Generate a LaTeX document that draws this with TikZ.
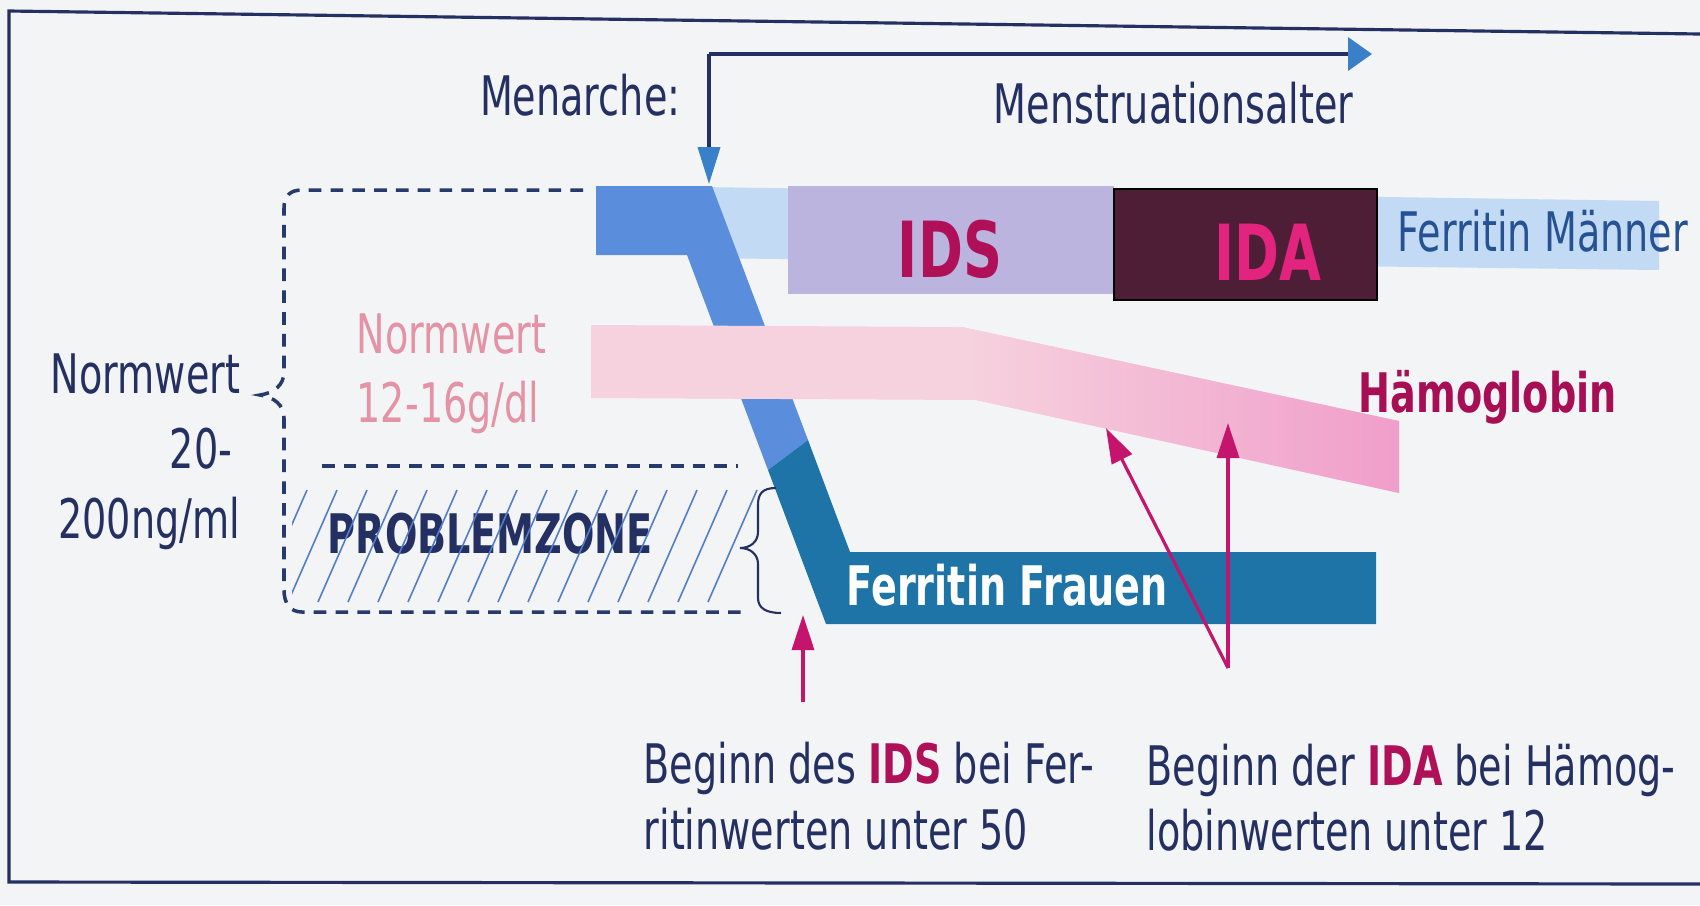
\documentclass[tikz,border=0pt]{standalone}
\usepackage{fontspec}
\setmainfont{DejaVu Sans}[FakeStretch=0.7]
\usetikzlibrary{arrows.meta}

\definecolor{bgcol}{RGB}{243,244,246}
\definecolor{navy}{RGB}{36,48,98}
\definecolor{dashcol}{RGB}{38,58,108}
\definecolor{fmtext}{RGB}{38,82,148}
\definecolor{lightblue}{RGB}{194,218,243}
\definecolor{midblue}{RGB}{90,142,220}
\definecolor{ferblue}{RGB}{30,116,166}
\definecolor{idsboxcol}{RGB}{186,180,222}
\definecolor{idaboxcol}{RGB}{78,30,54}
\definecolor{idstext}{RGB}{176,16,88}
\definecolor{idatext}{RGB}{226,36,126}
\definecolor{magarrow}{RGB}{196,20,108}
\definecolor{hbtext}{RGB}{168,14,84}
\definecolor{pinkpale}{RGB}{246,210,222}
\definecolor{pinkmid}{RGB}{243,182,212}
\definecolor{pinkdeep}{RGB}{240,158,202}
\definecolor{pinktext}{RGB}{228,146,166}
\definecolor{hatchcol}{RGB}{84,124,204}
\definecolor{arrowblue}{RGB}{58,128,200}

\begin{document}
\begin{tikzpicture}[x=0.01cm,y=-0.01cm,
  txt/.style={inner sep=0pt, font=\fontsize{15.5}{18}\selectfont, text=navy},
  btxt/.style={inner sep=0pt, font=\fontsize{15.5}{18}\selectfont\bfseries},
  bigtxt/.style={inner sep=0pt, font=\fontsize{22}{26}\selectfont\bfseries},
  dashline/.style={dashcol, line width=1pt, dash pattern=on 3.6pt off 2.6pt},
  menarrow/.style={navy, line width=0.9pt},
  magline/.style={magarrow, line width=0.9pt, -{Triangle[length=10pt,width=6.3pt]}},
  hatchline/.style={hatchcol, line width=0.45pt}
]
% background and bounding box
\fill[bgcol] (0,0) rectangle (1700,905);
\useasboundingbox (0,0) rectangle (1700,905);

% frame
\draw[navy, line width=0.9pt] (1700,34) -- (9,11) -- (9,882) -- (1700,884);

% Ferritin Maenner band (light blue)
\fill[lightblue] (700,187) -- (1659,201) -- (1659,270) -- (700,258) -- cycle;

% Ferritin Frauen band: upper part (medium blue)
\fill[midblue] (596,186) -- (712,186) -- (808,440) -- (768,470) -- (687,255) -- (596,255) -- cycle;
% lower part (dark blue)
\fill[ferblue] (808,440) -- (850,552) -- (1376,552) -- (1376,624) -- (826,624) -- (768,470) -- cycle;

% IDS / IDA boxes
\fill[idsboxcol] (788,186) rectangle (1114,294);
\filldraw[fill=idaboxcol, draw=black, line width=0.8pt] (1114,189) rectangle (1377,300);

% Haemoglobin band
\fill[pinkpale] (591,325) -- (962,327) -- (1399,421) -- (1399,493) -- (976,400) -- (591,398) -- cycle;
\shade[left color=pinkpale, middle color=pinkmid, right color=pinkdeep]
  (962,327) -- (1399,421) -- (1399,493) -- (976,400) -- cycle;

% dashed bracket (Normwert 20-200 ng/ml)
\draw[dashline] (583,190) -- (302,190) .. controls (290,190) and (284,196) .. (284,208)
  -- (284,372) .. controls (284,385) and (274,393) .. (260,395)
  .. controls (274,397) and (284,405) .. (284,418)
  -- (284,590) .. controls (284,603) and (290,612) .. (302,612) -- (747,612);
\draw[dashline] (322,466) -- (738,466);

% Problemzone
\node[btxt, text=navy, anchor=base west] (pz) at (327,553) {PROBLEMZONE};
\begin{scope}
  \clip (292,488) rectangle (762,604);
  \foreach \k in {0,...,15}
    \draw[hatchline] (757-30*\k,490) -- (708-30*\k,602);
\end{scope}

% curly brace
\draw[navy, line width=0.6pt] (776,488) .. controls (762,488) and (758,494) .. (758,505)
  -- (758,532) .. controls (758,542) and (750,548) .. (740,548)
  .. controls (750,548) and (758,554) .. (758,564)
  -- (758,598) .. controls (758,608) and (766,613) .. (781,613);

% Menarche arrow
\coordinate (mcorner) at (709,54);
\coordinate (mtip) at (709,184);
\coordinate (mright) at (1372,54);
\draw[menarrow, -{Triangle[length=10.5pt,width=6.3pt,color=arrowblue]}] (mcorner) -- (mtip);
\draw[menarrow, -{Triangle[length=6.8pt,width=9.4pt,color=arrowblue]}] (mcorner) -- (mright);

% magenta arrows
\coordinate (idsfoot) at (803,702);
\coordinate (idstip) at (803,615);
\coordinate (idafoot) at (1228,668);
\coordinate (idatipA) at (1106,428);
\coordinate (idatipB) at (1228,423);
\draw[magline] (idsfoot) -- (idstip);
\draw[magline] (idafoot) -- (idatipA);
\draw[magline] (idafoot) -- (idatipB);

% texts
\node[txt, anchor=base east] (menarche) at (681,115) {Menarche:};
\node[txt, anchor=base west] (msalter) at (993,123) {Menstruationsalter};
\node[txt, anchor=base west, text=fmtext] (fmaenner) at (1397,251) {Ferritin Männer};
\node[btxt, anchor=base west, text=hbtext] (hb) at (1358,412) {Hämoglobin};
\node[bigtxt, anchor=base, text=idstext] (ids) at (950,277) {IDS};
\node[bigtxt, anchor=base, text=idatext] (ida) at (1268,280) {IDA};
\node[btxt, anchor=base west, text=white] (ffrauen) at (846,605) {Ferritin Frauen};
\node[txt, anchor=base west, text=pinktext] (nwpink1) at (356,353) {Normwert};
\node[txt, anchor=base west, text=pinktext] (nwpink2) at (356,422) {12-16g/dl};
\node[txt, anchor=base east] (nw1) at (241,393) {Normwert};
\node[txt, anchor=base east] (nw2) at (233,468) {20-};
\node[txt, anchor=base east] (nw3) at (241,538) {200ng/ml};
\node[txt, anchor=base west] (bids1) at (643,783) {Beginn des {\bfseries\color{idstext}IDS} bei Fer-};
\node[txt, anchor=base west] (bids2) at (643,849) {ritinwerten unter 50};
\node[txt, anchor=base west] (bida1) at (1146,785) {Beginn der {\bfseries\color{idstext}IDA} bei Hämog-};
\node[txt, anchor=base west] (bida2) at (1146,850) {lobinwerten unter 12};
\end{tikzpicture}
\end{document}
